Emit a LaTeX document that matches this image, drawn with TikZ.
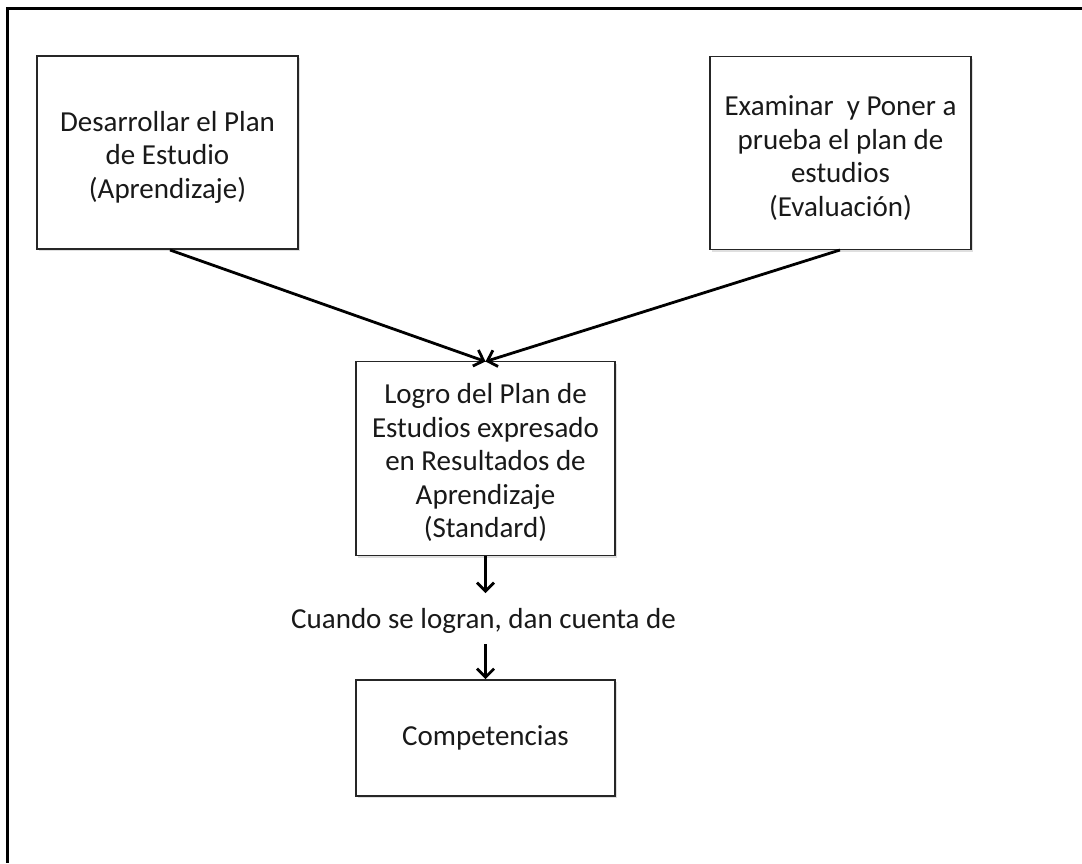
\documentclass[tikz,border=0pt]{standalone}
\usepackage{fontspec}
\setmainfont{Carlito}
\usetikzlibrary{arrows.meta,shadows}
\begin{document}
\begin{tikzpicture}[x=1pt,y=-1pt,
  box/.style={draw=black!85,line width=1.6pt,fill=white,
    drop shadow={opacity=0.25,shadow xshift=2pt,shadow yshift=-2pt},
    inner sep=0pt},
  txt/.style={font=\fontsize{29}{33.5}\selectfont,align=center,text=black!90},
  arr/.style={line width=2.8pt,-{Straight Barb[length=8.5pt,width=17pt,line width=2.8pt]}}]
\useasboundingbox (0,0) rectangle (1082,863);
\fill[white] (0,0) rectangle (1082,863);
% outer border (top and left only)
\draw[line width=3pt] (1082,8.5) -- (7.5,8.5) -- (7.5,863);
% boxes
\node[box,minimum width=261pt,minimum height=193pt] (a) at (167.5,152.5) {};
\node[txt,yshift=-4.5pt] (at) at (a) {Desarrollar el Plan\\de Estudio\\(Aprendizaje)};
\node[box,minimum width=261pt,minimum height=193pt] (b) at (840.5,153) {};
\node[txt,yshift=-5pt] (bt) at (b) {Examinar\ \ y Poner a\\prueba el plan de\\estudios\\(Evaluación)};
\node[box,minimum width=259pt,minimum height=194pt] (c) at (485.5,458.5) {};
\node[txt,yshift=-4pt] (ctx) at (c) {Logro del Plan de\\Estudios expresado\\en Resultados de\\Aprendizaje\\(Standard)};
\node[box,minimum width=259pt,minimum height=116pt] (d) at (485.5,738) {};
\node[txt] (dt) at (d) {Competencias};
\node[txt,inner sep=0pt] (l) at (483.5,621) {Cuando se logran, dan cuenta de};
% connectors
\coordinate (as) at (170,250);
\coordinate (bs) at (840,250);
\coordinate (ct) at (485.5,361.5);
\coordinate (m1) at (485.5,593);
\coordinate (m2) at (485.5,644);
\draw[arr] (as) -- (ct);
\draw[arr] (bs) -- (ct);
\draw[arr] (c.south) -- (m1);
\draw[arr] (m2) -- (d.north);
\end{tikzpicture}
\end{document}
